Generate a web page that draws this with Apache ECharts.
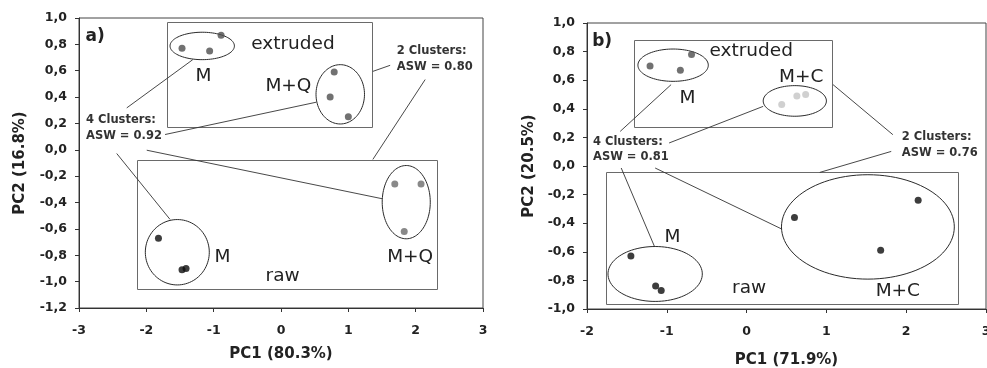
<!DOCTYPE html>
<html><head><meta charset="utf-8">
<script src="https://cdn.jsdelivr.net/npm/echarts@6/dist/echarts.min.js"></script>
<style>html,body{margin:0;padding:0;background:#fff}#c{width:987px;height:368px}</style>
</head><body><div id="c"></div>
<script>
// ---------- Panel a) data ----------
const aExtM  = [[-1.47,0.77],[-1.06,0.75],[-0.89,0.87]];
const aExtMQ = [[0.79,0.59],[0.73,0.40],[1.00,0.25]];
const aRawM  = [[-1.82,-0.67],[-1.47,-0.91],[-1.41,-0.90]];
const aRawMQ = [[1.69,-0.26],[2.08,-0.26],[1.83,-0.62]];
// ---------- Panel b) data ----------
const bExtM  = [[-1.21,0.70],[-0.83,0.67],[-0.69,0.78]];
const bExtMC = [[0.44,0.43],[0.63,0.49],[0.74,0.50]];
const bRawM  = [[-1.45,-0.63],[-1.14,-0.84],[-1.07,-0.87]];
const bRawMC = [[0.60,-0.36],[2.15,-0.24],[1.68,-0.59]];

// ---------- tick labels ----------
const aXTicks = ['-3','-2','-1','0','1','2','3'];
const aYTicks = ['-1,2','-1,0','-0,8','-0,6','-0,4','-0,2','0,0','0,2','0,4','0,6','0,8','1,0'];
const bXTicks = ['-2','-1','0','1','2','3'];
const bYTicks = ['-1,0','-0,8','-0,6','-0,4','-0,2','0,0','0,2','0,4','0,6','0,8','1,0'];

// ---------- axis titles ----------
const aXTitle = 'PC1 (80.3%)', aYTitle = 'PC2 (16.8%)';
const bXTitle = 'PC1 (71.9%)', bYTitle = 'PC2 (20.5%)';

// ---------- annotations (data units) ----------
// boxes: [x1, y1, x2, y2]
const aBoxes = [[-1.69,0.174,1.36,0.967],[-2.14,-1.06,2.31,-0.08]];
const bBoxes = [[-1.405,0.273,1.07,0.878],[-1.76,-0.97,2.654,-0.045]];
// ellipses: [cx, cy, rx, ry]
const aEllipses = [[-1.17,0.788,0.478,0.104],[0.88,0.421,0.36,0.225],[-1.54,-0.777,0.475,0.248],[1.86,-0.397,0.357,0.278]];
const bEllipses = [[-0.921,0.705,0.441,0.113],[0.604,0.455,0.396,0.107],[-1.146,-0.755,0.591,0.192],[1.52,-0.426,1.083,0.365]];
// leader lines: [x1, y1, x2, y2]
const aLeaders = [[-2.291,0.318,-1.31,0.684],[-1.722,0.116,0.522,0.361],[-2.44,-0.028,-1.648,-0.528],[-1.994,-0.003,1.502,-0.371],[1.364,0.595,1.621,0.641],[2.141,0.533,1.364,-0.073]];
const bLeaders = [[-1.584,0.242,-0.946,0.569],[-0.971,0.161,0.2075,0.417],[-1.571,-0.014,-1.155,-0.562],[-1.146,-0.014,0.4375,-0.44],[1.083,0.569,1.833,0.219],[1.8125,0.102,0.916,-0.045]];
// group labels: [text, x, y]
const aGroupLabels = [['extruded',0.177,0.798],['M',-1.153,0.555],['M+Q',0.11,0.485],['M',-0.868,-0.812],['M+Q',1.918,-0.812],['raw',0.024,-0.958]];
const bGroupLabels = [['extruded',0.058,0.80],['M+C',0.683,0.622],['M',-0.74,0.476],['M',-0.928,-0.498],['raw',0.031,-0.853],['M+C',1.895,-0.877]];
// cluster notes: [text, x(left), y]
const aNotes = [['4 Clusters:\nASW = 0.92',-2.896,0.165],['2 Clusters:\nASW = 0.80',1.72,0.689]];
const bNotes = [['4 Clusters:\nASW = 0.81',-1.925,0.117],['2 Clusters:\nASW = 0.76',1.945,0.147]];
const aPanel = [['a)',-2.76,0.858]];
const bPanel = [['b)',-1.81,0.871]];

// ---------- helpers ----------
const FONT = 'DejaVu Sans';
function tickFmt(arr, min, step){ return v => arr[Math.round((v - min)/step)] ?? ''; }

function xAxis(gi, min, max, ticks, title, gap, margin){
  return {type:'value', gridIndex:gi, min, max, interval:1,
    name:title, nameLocation:'middle', nameGap:gap,
    nameTextStyle:{fontFamily:FONT, fontWeight:'bold', fontSize:15, color:'#222'},
    axisLine:{onZero:false, lineStyle:{color:'#333', width:1}},
    axisTick:{show:true, inside:false, length:4, lineStyle:{color:'#333'}},
    axisLabel:{formatter:tickFmt(ticks,min,1), fontFamily:FONT, fontWeight:'bold', fontSize:12.5, color:'#222', margin, showMinLabel:true, showMaxLabel:true, hideOverlap:false},
    splitLine:{show:false}};
}
function yAxis(gi, min, max, ticks, title, gap){
  return {type:'value', gridIndex:gi, min, max, interval:0.2,
    name:title, nameLocation:'middle', nameGap:gap,
    nameTextStyle:{fontFamily:FONT, fontWeight:'bold', fontSize:15, color:'#222'},
    axisLine:{onZero:false, lineStyle:{color:'#333', width:1}},
    axisTick:{show:true, inside:false, length:4, lineStyle:{color:'#333'}},
    axisLabel:{formatter:tickFmt(ticks,min,0.2), fontFamily:FONT, fontWeight:'bold', fontSize:12.5, color:'#222', margin:12, showMinLabel:true, showMaxLabel:true, hideOverlap:false},
    splitLine:{show:false}};
}
function pts(gi, data, color){
  return {type:'scatter', xAxisIndex:gi, yAxisIndex:gi, data, symbol:'circle', symbolSize:7,
    itemStyle:{color}, z:5, silent:true, emphasis:{disabled:true}};
}
function boxes(gi, data){
  return {type:'custom', xAxisIndex:gi, yAxisIndex:gi, data, z:2, silent:true, clip:false,
    renderItem:(p, api)=>{
      const a = api.coord([api.value(0), api.value(3)]);
      const b = api.coord([api.value(2), api.value(1)]);
      return {type:'rect', shape:{x:Math.round(a[0])+0.5, y:Math.round(a[1])+0.5, width:Math.round(b[0]-a[0]), height:Math.round(b[1]-a[1])},
        style:{fill:'none', stroke:'#6a6a6a', lineWidth:1}};
    }};
}
function ellipses(gi, data){
  return {type:'custom', xAxisIndex:gi, yAxisIndex:gi, data, z:3, silent:true, clip:false,
    renderItem:(p, api)=>{
      const c = api.coord([api.value(0), api.value(1)]);
      const s = api.size([api.value(2), api.value(3)]);
      const points = [];
      for(let k=0;k<96;k++){ const t = k/96*Math.PI*2; points.push([c[0]+s[0]*Math.cos(t), c[1]+s[1]*Math.sin(t)]); }
      return {type:'polygon', shape:{points}, style:{fill:'none', stroke:'#2a2a2a', lineWidth:1}};
    }};
}
function leaders(gi, data){
  return {type:'custom', xAxisIndex:gi, yAxisIndex:gi, data, z:3, silent:true, clip:false,
    renderItem:(p, api)=>{
      const a = api.coord([api.value(0), api.value(1)]);
      const b = api.coord([api.value(2), api.value(3)]);
      return {type:'line', shape:{x1:a[0], y1:a[1], x2:b[0], y2:b[1]}, style:{stroke:'#333', lineWidth:0.9}};
    }};
}
function texts(gi, arr, style){
  return {type:'custom', xAxisIndex:gi, yAxisIndex:gi, data:arr.map(r=>[r[1], r[2]]), z:4, silent:true, clip:false,
    renderItem:(p, api)=>{
      const c = api.coord([api.value(0), api.value(1)]);
      return {type:'text', x:c[0], y:c[1], style:Object.assign({text:arr[p.dataIndex][0]}, style)};
    }};
}
const groupStyle = {fontFamily:FONT, fontSize:18.5, fill:'#222', align:'center', verticalAlign:'middle'};
const noteStyle = {fontFamily:FONT, fontWeight:'bold', fontSize:11.5, lineHeight:15.5, fill:'#333', align:'left', verticalAlign:'middle'};
const panelStyle = {fontFamily:FONT, fontWeight:'bold', fontSize:17, fill:'#222', align:'center', verticalAlign:'middle'};

const chart = echarts.init(document.getElementById('c'), null, {renderer:'canvas'});
chart.setOption({
  animation:false,
  backgroundColor:'#fff',
  grid:[
    {left:79, top:18, width:404, height:290, show:true, borderColor:'#444', borderWidth:1, containLabel:false, outerBoundsMode:'none'},
    {left:587, top:23, width:399, height:286, show:true, borderColor:'#444', borderWidth:1, containLabel:false, outerBoundsMode:'none'}
  ],
  xAxis:[xAxis(0,-3,3,aXTicks,aXTitle,39,16), xAxis(1,-2,3,bXTicks,bXTitle,44,16)],
  yAxis:[yAxis(0,-1.2,1.0,aYTicks,aYTitle,51), yAxis(1,-1.0,1.0,bYTicks,bYTitle,50)],
  series:[
    boxes(0,aBoxes), ellipses(0,aEllipses), leaders(0,aLeaders),
    texts(0,aGroupLabels,groupStyle), texts(0,aNotes,noteStyle), texts(0,aPanel,panelStyle),
    pts(0,aExtM,'#4d4d4d'), pts(0,aExtMQ,'#4d4d4d'), pts(0,aRawM,'#0d0d0d'), pts(0,aRawMQ,'#6b6b6b'),
    boxes(1,bBoxes), ellipses(1,bEllipses), leaders(1,bLeaders),
    texts(1,bGroupLabels,groupStyle), texts(1,bNotes,noteStyle), texts(1,bPanel,panelStyle),
    pts(1,bExtM,'#4d4d4d'), pts(1,bExtMC,'#c4c4c4'), pts(1,bRawM,'#0d0d0d'), pts(1,bRawMC,'#0d0d0d')
  ]
});
</script></body></html>
